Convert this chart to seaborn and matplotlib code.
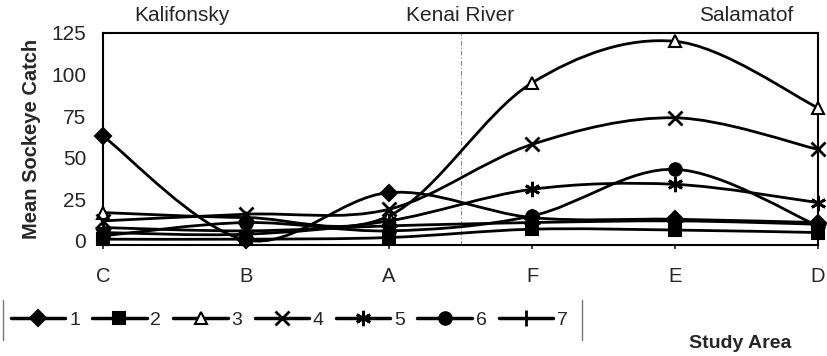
import numpy as np
import pandas as pd
import matplotlib
matplotlib.use("Agg")
import matplotlib.pyplot as plt
from matplotlib.path import Path
from matplotlib.patches import PathPatch
from matplotlib.lines import Line2D
import seaborn as sns

# ---- data ----
areas = ["C", "B", "A", "F", "E", "D"]
s1 = [63, 0.5, 29, 14, 13, 11]
s2 = [1, 1, 2, 7, 6.5, 5]
s3 = [17, 14, 15, 95, 120, 80]
s4 = [12, 16, 19, 58, 74, 55]
s5 = [5, 4, 12, 31, 34, 23]
s6 = [3, 11, 6, 15, 43, 9]
s7 = [8, 6, 9, 11, 12, 10]
series_names = ["1", "2", "3", "4", "5", "6", "7"]
series_vals = [s1, s2, s3, s4, s5, s6, s7]
region_labels = ["Kalifonsky", "Kenai River", "Salamatof"]
yticks = [0, 25, 50, 75, 100, 125]

sns.set_theme(style="white")
plt.rcParams["font.family"] = ["Liberation Sans", "DejaVu Sans"]

fig = plt.figure(figsize=(8.27, 3.56), dpi=100)
ax = fig.add_axes([103 / 827, 1 - 245 / 356, (818 - 103) / 827, (245 - 33) / 356])

markers = ["D", "s", "^", "x", (6, 2, 0), "o", "+"]
msizes = [8, 8, 9, 10, 11, 9, 12]
faces = ["black", "black", "white", "black", "black", "black", "black"]

pos = np.arange(len(areas))


def smooth_path(xs, ys):
    n = len(xs)
    pts = np.column_stack([xs, ys]).astype(float)
    verts = [pts[0]]
    codes = [Path.MOVETO]
    for i in range(n - 1):
        p0 = pts[i - 1] if i > 0 else pts[i]
        p1 = pts[i]
        p2 = pts[i + 1]
        p3 = pts[i + 2] if i + 2 < n else pts[i + 1]
        c1 = p1 + (p2 - p0) / 6.0
        c2 = p2 - (p3 - p1) / 6.0
        verts += [c1, c2, p2]
        codes += [Path.CURVE4] * 3
    return Path(verts, codes)


handles = []
for name, vals, m, ms, fc in zip(series_names, series_vals, markers, msizes, faces):
    df = pd.DataFrame({"pos": pos, "val": vals})
    mew = 2 if (m in ("x", "+") or isinstance(m, tuple)) else 1.5
    patch = PathPatch(smooth_path(df["pos"].values, df["val"].values),
                      fill=False, edgecolor="black", lw=2.0, zorder=2,
                      transform=ax.transData)
    ax.add_patch(patch)
    sns.lineplot(data=df, x="pos", y="val", ax=ax, color="black", lw=0,
                 marker=m, markersize=ms, markerfacecolor=fc,
                 markeredgecolor="black", markeredgewidth=mew,
                 clip_on=False, zorder=3, legend=False)
    handles.append(Line2D([], [], color="black", lw=2.5, marker=m, markersize=ms,
                          markerfacecolor=fc, markeredgecolor="black",
                          markeredgewidth=mew))

ax.axvline(2.5, color="#888888", lw=0.8, ls=(0, (4, 2, 1, 2)), zorder=1)

ax.set_xlim(0, len(areas) - 1)
ax.set_ylim(-2.5, 125)
ax.set_yticks(yticks)
ax.set_yticklabels([str(t) for t in yticks], fontsize=15)
ax.set_xticks(pos)
ax.set_xticklabels(areas, fontsize=14.5)
ax.tick_params(axis="x", pad=13, length=3, direction="out", bottom=True)
ax.tick_params(axis="y", pad=12, length=0)
ax.set_xlabel("")
ax.set_ylabel("Mean Sockeye Catch", fontsize=14.5, fontweight="bold", labelpad=7)

for sp in ax.spines.values():
    sp.set_color("black")
    sp.set_linewidth(1.5)

for lbl, xpos in zip(region_labels, [0.55, 2.5, 4.5]):
    ax.text(xpos, 130, lbl, ha="center", va="bottom", fontsize=15, clip_on=False)

fig.text(740 / 827, 1 - 343 / 356, "Study Area", ha="center", va="center",
         fontsize=14, fontweight="bold")

leg = fig.legend(handles, series_names, loc="center left",
                 bbox_to_anchor=(5 / 827, 1 - 320 / 356), ncol=7,
                 frameon=False, fontsize=14, handlelength=2.8, handletextpad=0.2,
                 columnspacing=0.62, borderpad=0.3, borderaxespad=0.0,
                 markerscale=1.0)

for xpx in (3, 582):
    fig.add_artist(Line2D([xpx / 827, xpx / 827], [1 - 300 / 356, 1 - 340 / 356],
                          transform=fig.transFigure, color="#777777", lw=1.0))

fig.savefig("out.png", dpi=100)
